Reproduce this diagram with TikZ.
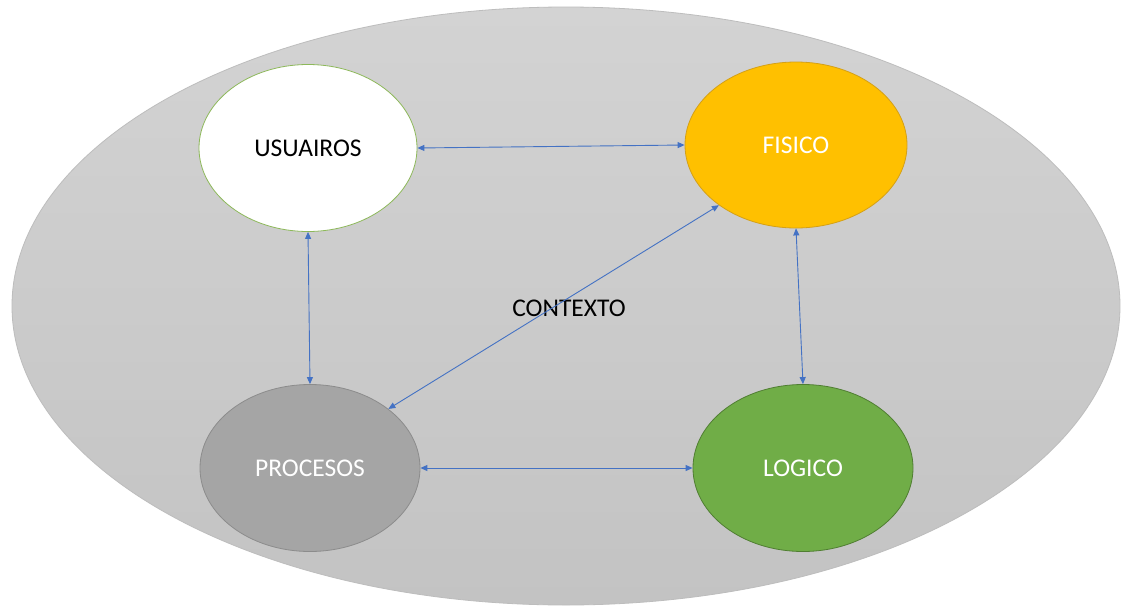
\documentclass[tikz,border=0pt]{standalone}
\usepackage{fontspec}
\setmainfont{Carlito}
\usetikzlibrary{shapes.geometric,arrows.meta}
\definecolor{bgtop}{HTML}{D3D3D3}
\definecolor{bgbot}{HTML}{C3C3C3}
\definecolor{bgedge}{HTML}{BDBDBD}
\definecolor{arrblue}{HTML}{4472C4}
\definecolor{fisfill}{HTML}{FFC000}
\definecolor{fisedge}{HTML}{D4A017}
\definecolor{procfill}{HTML}{A5A5A5}
\definecolor{procedge}{HTML}{8C8C8C}
\definecolor{logfill}{HTML}{70AD47}
\definecolor{logedge}{HTML}{507E32}
\definecolor{usedge}{HTML}{8DB85A}
\tikzset{
  blob/.style={ellipse, minimum width=218pt, minimum height=167pt, inner sep=0pt,
    line width=0.8pt, font=\fontsize{25.5}{30}\selectfont},
  link/.style={draw=arrblue, line width=0.9pt, {Triangle[length=7pt,width=6pt]}-{Triangle[length=7pt,width=6pt]}},
}
\begin{document}
\begin{tikzpicture}[x=1pt,y=-1pt]
\useasboundingbox (0,0) rectangle (1122,608);
\fill[white] (0,0) rectangle (1122,608);
\shade[top color=bgtop, bottom color=bgbot, draw=bgedge, line width=0.8pt] (566,306) ellipse [x radius=554, y radius=299];
\node[blob, fill=white, draw=usedge, text=black] (us) at (308,148) {USUAIROS};
\node[blob, fill=fisfill, draw=fisedge, text=white, minimum width=222pt, minimum height=166pt] (fi) at (796,145) {FISICO};
\node[blob, fill=procfill, draw=procedge, text=white, minimum width=220pt] (pr) at (310,468) {PROCESOS};
\node[blob, fill=logfill, draw=logedge, text=white, minimum width=220pt] (lo) at (803,468) {LOGICO};
\node[font=\fontsize{25.5}{30}\selectfont] (ctx) at (569,308) {CONTEXTO};
\draw[link] (us.east) -- (fi.west);
\draw[link] (us.south) -- (pr.north);
\draw[link] (fi.south) -- (lo.north);
\draw[link] (pr.east) -- (lo.west);
\draw[link] (pr.37) -- (fi.218);
\end{tikzpicture}
\end{document}
